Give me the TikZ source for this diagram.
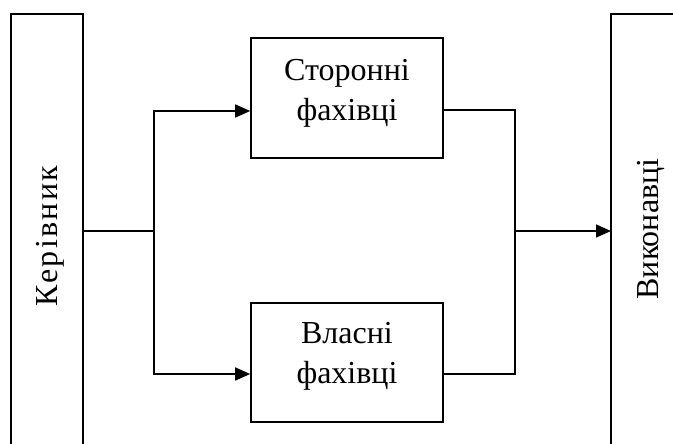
\documentclass[tikz,border=0pt]{standalone}
\usepackage{fontspec}
\setmainfont{Liberation Serif}
\newfontfamily\widefont[LetterSpace=7.5]{Liberation Serif}
\usetikzlibrary{arrows.meta}
\begin{document}
\begin{tikzpicture}[x=1pt,y=-1pt, line width=1.6pt,
  arr/.style={-{Triangle[length=15pt,width=13pt]}},
  box/.style={draw, minimum width=192pt, minimum height=120pt, inner sep=0pt},
  lbl/.style={align=center, inner sep=0pt, font=\fontsize{32}{40}\selectfont},
  vtxt/.style={rotate=90, font=\fontsize{32}{40}\selectfont, inner sep=0pt}]
\useasboundingbox (0,0) rectangle (673,444);
\node[box] (ext) at (347,98) {};
\node[lbl] (extt) at ([yshift=5pt]ext.center) {Сторонні\\фахівці};
\node[box, minimum height=119pt] (own) at (347,362.5) {};
\node[lbl] (ownt) at ([yshift=6pt]own.center) {Власні\\фахівці};
\node[vtxt] (ker) at (50,236) {\widefont Керівник};
\node[vtxt] (vyk) at (651,229) {Виконавці};
\draw (11,444) -- (11,14) -- (83,14) -- (83,444);
\draw (611,444) -- (611,14) -- (674,14);
\coordinate (kout) at (83,231);
\coordinate (fork) at (154,231);
\coordinate (join) at (515,231);
\coordinate (vin) at (611,231);
\draw (kout) -- (fork);
\draw[arr] (fork) |- ([yshift=-13pt]ext.west);
\draw[arr] (fork) |- ([yshift=-11.5pt]own.west);
\draw ([yshift=-12pt]ext.east) -| (join);
\draw ([yshift=-11.5pt]own.east) -| (join);
\draw[arr] (join) -- (vin);
\end{tikzpicture}
\end{document}
